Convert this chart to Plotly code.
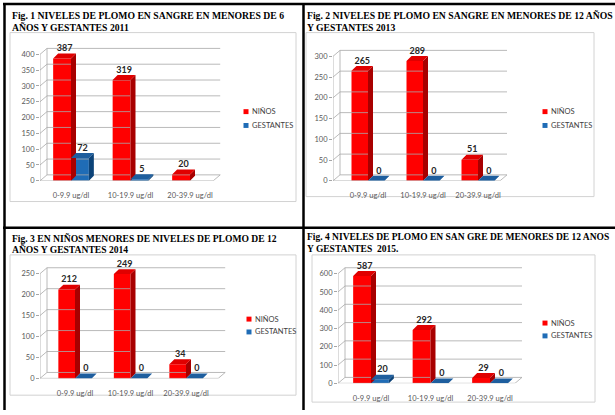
import plotly.graph_objects as go

FIG_W, FIG_H = 615, 415

# ---- data -------------------------------------------------------------
CATEGORIES = ["0-9.9 ug/dl", "10-19.9 ug/dl", "20-39.9 ug/dl"]
SERIES_NAMES = ["NIÑOS", "GESTANTES"]

TITLE_2011 = ["Fig. 1 NIVELES DE PLOMO EN SANGRE EN MENORES DE 6", "AÑOS Y GESTANTES 2011"]
TITLE_2013 = ["Fig. 2 NIVELES DE PLOMO EN SANGRE EN MENORES DE 12 AÑOS", "Y GESTANTES 2013"]
TITLE_2014 = ["Fig. 3 EN NIÑOS MENORES DE NIVELES DE PLOMO DE 12", "AÑOS Y GESTANTES 2014"]
TITLE_2015 = ["Fig. 4 NIVELES DE PLOMO EN SAN GRE DE MENORES DE 12 ANOS", "Y GESTANTES\u00a0 2015."]

NINOS_2011 = [387, 319, 20]
GESTANTES_2011 = [72, 5, None]
NINOS_2013 = [265, 289, 51]
GESTANTES_2013 = [0, 0, 0]
NINOS_2014 = [212, 249, 34]
GESTANTES_2014 = [0, 0, 0]
NINOS_2015 = [587, 292, 29]
GESTANTES_2015 = [20, 0, 0]

TICKS_2011 = [0, 50, 100, 150, 200, 250, 300, 350, 400]
TICKS_2013 = [0, 50, 100, 150, 200, 250, 300]
TICKS_2014 = [0, 50, 100, 150, 200, 250]
TICKS_2015 = [0, 100, 200, 300, 400, 500, 600]

# ---- styling / placement (pixels) ------------------------------------
RED = dict(front="#FF0000", side="#A80000", top="#E00000")
BLUE = dict(front="#1F6CB6", side="#0C4378", top="#1E5E9E")
GRID = "#A8A8A8"
TICK_FONT = dict(family="Lato", size=7.5, color="#595959")
LABEL_FONT = dict(family="Lato", size=9, color="#262626")
BAR_W = 0.3          # bar width in category units
BAR_DEPTH = 5        # px
WALL_DX, WALL_DY = 7, 6  # px

PANELS = [
    dict(title=TITLE_2011, ninos=NINOS_2011, gest=GESTANTES_2011, ticks=TICKS_2011,
         title_x=10, title_y=(16, 28), title_size=9.7, box=(10, 33, 296, 204),
         cx0=71, step=59.5, axis_x=40, zero_y=183, k=0.32, floor_end=2.39,
         legend=(246, 113, 127)),
    dict(title=TITLE_2013, ninos=NINOS_2013, gest=GESTANTES_2013, ticks=TICKS_2013,
         title_x=305, title_y=(16, 28), title_size=9.7, box=(306, 33, 594, 199),
         cx0=368, step=55, axis_x=333, zero_y=183, k=0.42, floor_end=2.4,
         legend=(545, 113, 127)),
    dict(title=TITLE_2014, ninos=NINOS_2014, gest=GESTANTES_2014, ticks=TICKS_2014,
         title_x=10, title_y=(241, 253), title_size=9.6, box=(10, 258, 296, 400),
         cx0=75, step=55.5, axis_x=40, zero_y=383, k=0.424, floor_end=2.58,
         legend=(249, 323, 336)),
    dict(title=TITLE_2015, ninos=NINOS_2015, gest=GESTANTES_2015, ticks=TICKS_2015,
         title_x=305, title_y=(240, 252), title_size=9.5, box=(312, 258, 595, 407),
         cx0=371, step=59.5, axis_x=338, zero_y=388, k=0.185, floor_end=2.42,
         legend=(545, 327, 340)),
]


def fx(px):
    return px / FIG_W


def fy(py):
    return 1 - py / FIG_H


fig = go.Figure()
shapes, annotations = [], []

for i, p in enumerate(PANELS, start=1):
    xa = "x" if i == 1 else f"x{i}"
    ya = "y" if i == 1 else f"y{i}"
    step, k = p["step"], p["k"]
    fl = (p["axis_x"] - p["cx0"]) / step
    fr = p["floor_end"]
    wdx, wdy = WALL_DX / step, WALL_DY / k
    bdx, bdy = BAR_DEPTH / step, BAR_DEPTH / k

    # axes
    right_px = p["cx0"] + (fr + 0.35) * step
    top_px = p["box"][1] + 3
    fig.layout[f"xaxis{'' if i == 1 else i}"] = dict(
        domain=[fx(p["axis_x"]), fx(right_px)],
        range=[fl, (right_px - p["cx0"]) / step],
        anchor=ya, showgrid=False, zeroline=False, showline=False,
        tickvals=[0, 1, 2], ticktext=CATEGORIES, tickfont=TICK_FONT, ticks="",
        ticklabelstandoff=9, fixedrange=True,
    )
    fig.layout[f"yaxis{'' if i == 1 else i}"] = dict(
        domain=[fy(p["zero_y"]), fy(top_px)],
        range=[0, (p["zero_y"] - top_px) / k],
        anchor=xa, showgrid=False, zeroline=False, showline=False,
        tickvals=p["ticks"], tickfont=TICK_FONT, ticks="outside", ticklen=3,
        tickcolor="#A6A6A6", fixedrange=True,
    )

    # walls, floor and gridlines
    vmax = p["ticks"][-1]
    gx, gy = [], []
    for v in p["ticks"]:
        gx += [fl, fl + wdx, fr + wdx, None]
        gy += [v, v + wdy, v + wdy, None]
    gx += [fl, fl, None, fl + wdx, fl + wdx, None, fl, fr, fr + wdx, None]
    gy += [0, vmax, None, wdy, vmax + wdy, None, 0, 0, wdy, None]
    fig.add_trace(go.Scatter(x=gx, y=gy, mode="lines", xaxis=xa, yaxis=ya,
                             line=dict(color=GRID, width=0.8), showlegend=False,
                             hoverinfo="skip", cliponaxis=False))

    # 3D bars: front face (bar), side and top faces (filled polygons)
    for vals, offset, col in ((p["ninos"], -BAR_W, RED), (p["gest"], 0.0, BLUE)):
        fig.add_trace(go.Bar(x=[0, 1, 2], y=vals, width=BAR_W, offset=offset,
                             xaxis=xa, yaxis=ya, marker=dict(color=col["front"], line=dict(width=0)),
                             showlegend=False, hoverinfo="skip"))
        sx, sy, tx, ty, lx, ly, lt = [], [], [], [], [], [], []
        for c, v in enumerate(vals):
            if v is None:
                continue
            x0 = c + offset
            x1 = x0 + BAR_W
            sx += [x1, x1, x1 + bdx, x1 + bdx, x1, None]
            sy += [0, v, v + bdy, bdy, 0, None]
            tx += [x0, x1, x1 + bdx, x0 + bdx, x0, None]
            ty += [v, v, v + bdy, v + bdy, v, None]
            lx.append((x0 + x1) / 2 + bdx / 2)
            ly.append(v + bdy)
            lt.append(f"<b>{v}</b>")
        fig.add_trace(go.Scatter(x=sx, y=sy, mode="lines", fill="toself",
                                 fillcolor=col["side"], line=dict(width=0),
                                 xaxis=xa, yaxis=ya, showlegend=False, hoverinfo="skip"))
        fig.add_trace(go.Scatter(x=tx, y=ty, mode="lines", fill="toself",
                                 fillcolor=col["top"], line=dict(width=0),
                                 xaxis=xa, yaxis=ya, showlegend=False, hoverinfo="skip"))
        fig.add_trace(go.Scatter(x=lx, y=ly, mode="text", text=lt,
                                 textposition="top center", textfont=LABEL_FONT,
                                 xaxis=xa, yaxis=ya, showlegend=False,
                                 hoverinfo="skip", cliponaxis=False))

    # chart frame
    bx0, by0, bx1, by1 = p["box"]
    shapes.append(dict(type="rect", xref="paper", yref="paper", layer="below",
                       x0=fx(bx0), x1=fx(bx1), y0=fy(by1), y1=fy(by0),
                       line=dict(color="#D2D2D2", width=1), fillcolor="rgba(0,0,0,0)"))

    # title
    for line, ty_px in zip(p["title"], p["title_y"]):
        annotations.append(dict(text=f"<b>{line}</b>", x=fx(p["title_x"]), y=fy(ty_px),
                                xref="paper", yref="paper", xanchor="left", yanchor="middle",
                                showarrow=False,
                                font=dict(family="Liberation Serif", size=p["title_size"],
                                          color="#000000")))

    # legend
    lgx, ly1, ly2 = p["legend"]
    for name, col, ly_px in ((SERIES_NAMES[0], RED, ly1), (SERIES_NAMES[1], BLUE, ly2)):
        shapes.append(dict(type="rect", xref="paper", yref="paper",
                           x0=fx(lgx - 2.5), x1=fx(lgx + 2.5),
                           y0=fy(ly_px + 2.5), y1=fy(ly_px - 2.5),
                           line=dict(width=0), fillcolor=col["front"]))
        annotations.append(dict(text=name, x=fx(lgx + 4), y=fy(ly_px), xref="paper",
                                yref="paper", xanchor="left", yanchor="middle",
                                showarrow=False, font=dict(family="Lato", size=7.5, color="#404040")))

# table rules separating the four figures
for x0, y0, x1, y1 in ((3, 4, 615, 4), (4.5, 3, 4.5, 415), (303.5, 3, 303.5, 415), (3, 230.5, 615, 230.5)):
    shapes.append(dict(type="line", xref="paper", yref="paper",
                       x0=fx(x0), y0=fy(y0), x1=fx(x1), y1=fy(y1),
                       line=dict(color="#000000", width=2.5)))

fig.update_layout(
    width=FIG_W, height=FIG_H, margin=dict(l=0, r=0, t=0, b=0),
    paper_bgcolor="white", plot_bgcolor="rgba(0,0,0,0)",
    barmode="overlay", hovermode=False, showlegend=False,
    shapes=shapes, annotations=annotations,
)

fig.write_html("out.html", config={"displayModeBar": False})
